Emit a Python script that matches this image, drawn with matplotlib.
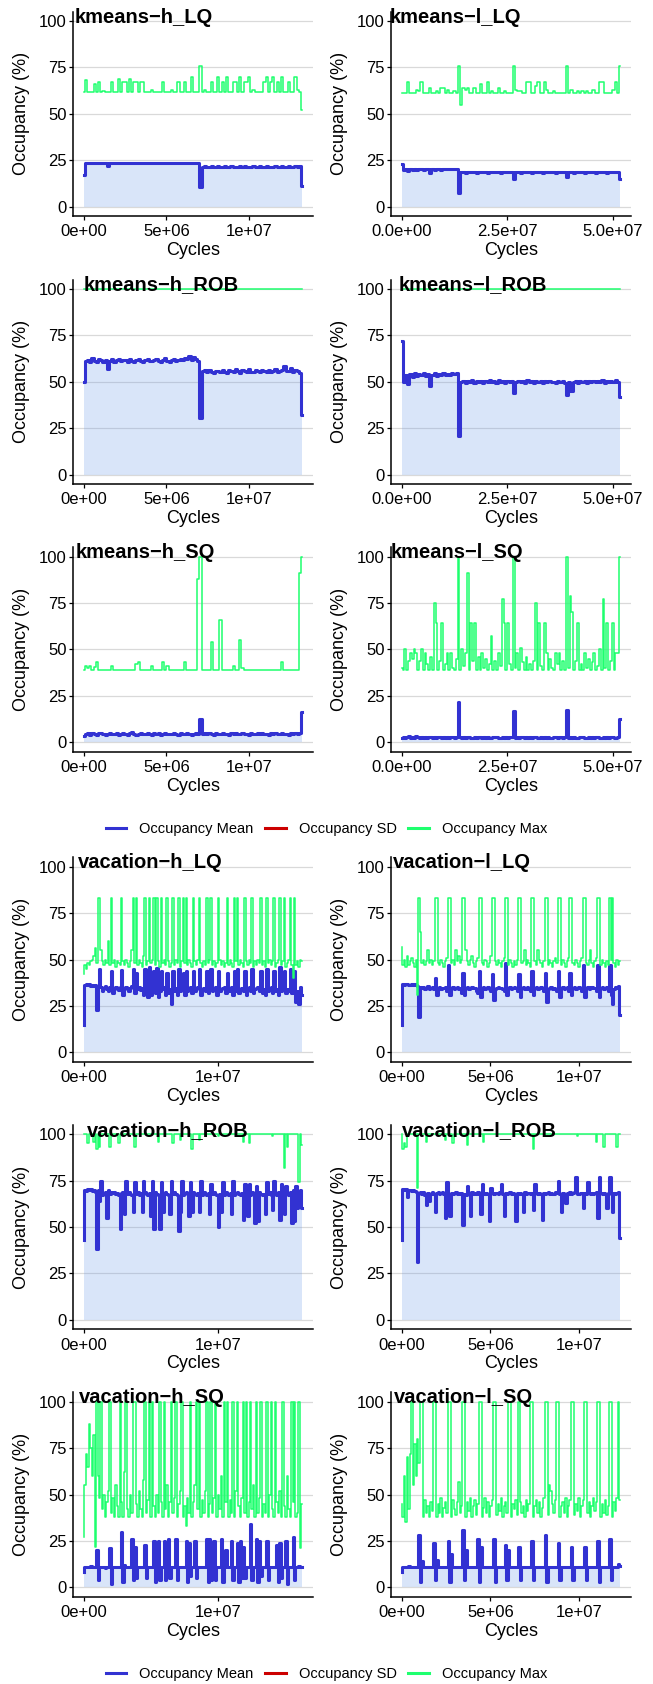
import numpy as np
import matplotlib
matplotlib.use('Agg')
import matplotlib.pyplot as plt
from matplotlib.lines import Line2D

plt.rcParams['font.family'] = ['Liberation Sans', 'DejaVu Sans']

# ---- values ----------------------------------------------------------------
panel_titles = ['kmeans−h_LQ', 'kmeans−l_LQ', 'kmeans−h_ROB', 'kmeans−l_ROB',
                'kmeans−h_SQ', 'kmeans−l_SQ', 'vacation−h_LQ', 'vacation−l_LQ',
                'vacation−h_ROB', 'vacation−l_ROB', 'vacation−h_SQ', 'vacation−l_SQ']
last_cycle = [13.2e6, 51.7e6, 13.2e6, 51.7e6, 13.2e6, 51.7e6,
              16.3e6, 12.3e6, 16.3e6, 12.3e6, 16.3e6, 12.3e6]

ticks_kmeans_h = [0, 5e6, 1e7]
labels_kmeans_h = ['0e+00', '5e+06', '1e+07']
ticks_kmeans_l = [0, 2.5e7, 5e7]
labels_kmeans_l = ['0.0e+00', '2.5e+07', '5.0e+07']
ticks_vacation_h = [0, 1e7]
labels_vacation_h = ['0e+00', '1e+07']
ticks_vacation_l = [0, 5e6, 1e7]
labels_vacation_l = ['0e+00', '5e+06', '1e+07']
y_ticks = [0, 25, 50, 75, 100]
legend_labels = ['Occupancy Mean', 'Occupancy SD', 'Occupancy Max']

kmeans_h_lq_mean = [
    17, 23.6, 23.4, 23.8, 23.5, 23.3, 23.7, 23.6, 23.4, 23.8,
    23.5, 22, 23.6, 23.4, 23.7, 23.5, 23.3, 23.8, 23.6, 23.4,
    23.5, 23.7, 23.3, 23.6, 23.8, 23.4, 23.5, 23.6, 23.3, 23.7,
    23.5, 23.4, 23.8, 23.6, 23.5, 23.3, 23.7, 23.4, 23.6, 23.5,
    23.8, 23.4, 23.6, 23.5, 23.3, 23.7, 23.6, 23.4, 23.5, 23.8,
    23.6, 23.5, 23.7, 10.5, 21.5, 21.8, 21.4, 21.6, 21.7, 21.3,
    21.6, 21.8, 21.5, 21.4, 21.7, 21.6, 21.3, 21.8, 21.5, 21.6,
    21.4, 21.7, 21.5, 21.8, 21.6, 21.3, 21.5, 21.7, 21.4, 21.6,
    21.8, 21.5, 21.4, 21.7, 21.6, 21.3, 21.5, 21.8, 21.6, 21.4,
    21.7, 21.5, 21.6, 21.8, 21.4, 21.5, 21.7, 21.6, 21.9, 11]
kmeans_h_lq_max = [
    61.5, 68, 61.5, 61.5, 61.5, 66, 61.5, 67, 61.5, 62.5,
    61.5, 61.5, 61.5, 67, 61.5, 61.5, 69, 61.5, 67, 67,
    61.5, 69, 61.5, 67, 67, 61.5, 67, 67, 61.5, 61.5,
    61.5, 63, 61.5, 61.5, 61.5, 61.5, 67, 61.5, 61.5, 61.5,
    63, 61.5, 61.5, 67, 61.5, 61.5, 67, 61.5, 61.5, 70,
    61.5, 61.5, 61.5, 76, 61.5, 63, 61.5, 61.5, 67, 61.5,
    61.5, 70, 61.5, 67, 61.5, 70, 61.5, 61.5, 67, 67,
    61.5, 70, 61.5, 67, 67, 70, 61.5, 63, 61.5, 61.5,
    61.5, 61.5, 67, 70, 61.5, 67, 70, 61.5, 67, 61.5,
    70, 61.5, 61.5, 67, 61.5, 61.5, 70, 63, 62, 52]

kmeans_l_lq_mean = [
    23, 19.5, 20.5, 19, 20.3, 20, 20.4, 19.8, 20.2, 20.5,
    19.9, 20.3, 20.1, 18, 20.4, 20, 20.3, 20.5, 19.9, 20.2,
    20.4, 20.1, 20.3, 20.5, 20.2, 20.4, 7.5, 18.5, 18.7, 18.4,
    18.8, 18.5, 18.6, 18.9, 18.4, 18.7, 18.5, 18.8, 18.6, 18.4,
    18.7, 18.9, 18.5, 18.6, 18.8, 18.4, 18.7, 18.5, 18.6, 18.8,
    18.5, 15, 18.6, 18.8, 18.4, 18.7, 18.5, 18.9, 18.6, 18.4,
    18.7, 18.5, 18.8, 18.6, 18.4, 18.7, 18.9, 18.5, 18.6, 18.8,
    18.4, 18.7, 18.5, 18.6, 18.8, 16, 18.5, 18.7, 18.4, 18.8,
    18.6, 18.5, 18.9, 18.4, 18.7, 18.6, 18.5, 18.8, 18.4, 18.7,
    18.6, 18.9, 18.5, 18.4, 18.7, 18.6, 18.8, 18.5, 18.9, 15]
kmeans_l_lq_max = [
    61, 61, 61, 67, 61, 61, 61, 63, 62.5, 67,
    61, 61, 61, 64, 61, 61, 62.5, 61, 64, 64,
    61, 63, 61, 61, 62.5, 61, 76, 55, 64, 63,
    64, 61, 61, 64, 61, 61, 66, 61, 61, 67,
    61, 62.5, 61, 61, 64, 61, 61, 62.5, 61, 61,
    61, 76, 63, 62.5, 62.5, 61, 61, 67, 67, 61,
    61, 65, 67, 61, 61, 67, 63, 61, 61, 62.5,
    61, 61, 61, 61, 61, 76, 61, 63, 61, 61,
    62.5, 61, 62.5, 61, 62.5, 61, 61, 63, 61, 61,
    67, 67, 61, 61, 61, 61, 63, 67, 61, 76]

kmeans_h_rob_mean = [
    50, 61, 61.8, 60.5, 62.5, 61.2, 60.8, 62, 61.5, 60.6,
    61.9, 57, 61.2, 62, 60.7, 61.5, 62.3, 60.9, 61.4, 61.8,
    60.6, 62.1, 61.3, 60.8, 61.9, 62.4, 61, 60.7, 61.6, 62.2,
    61.1, 60.9, 61.7, 62, 61.3, 60.6, 61.8, 62.5, 61.2, 60.8,
    61.5, 62.1, 61, 61.7, 62.3, 61.8, 63, 62, 64, 61.5,
    63.5, 62, 61, 30.5, 55.8, 56.5, 55, 56.2, 55.4, 54.8,
    56, 55.6, 55.1, 56.4, 55.3, 54.9, 56.1, 55.7, 55.2, 56.6,
    55.5, 54.8, 56.3, 55.9, 55.1, 56.7, 55.4, 55, 56.2, 55.8,
    55.3, 56.5, 55.6, 55, 56.1, 55.4, 55.9, 56.8, 55.2, 55.7,
    56.3, 58.5, 55.6, 56, 57.5, 55.4, 56.2, 55.8, 54.5, 32]
kmeans_h_rob_max = [100, 100]

kmeans_l_rob_mean = [
    72, 50, 53.5, 49, 54, 52.5, 54.5, 53, 54, 53.5,
    54.8, 53.2, 54, 47.5, 53.8, 54.5, 53.3, 54.2, 53.6, 54.8,
    53.4, 54.3, 53.7, 54.6, 54.1, 54.9, 21, 49.8, 50.5, 49.3,
    50.2, 49.7, 50.8, 49.5, 50.1, 49.9, 50.6, 49.4, 50.3, 49.8,
    50.7, 49.6, 50.2, 49.5, 50.9, 49.7, 50.4, 49.3, 50.1, 49.8,
    50.5, 44, 49.9, 50.4, 49.6, 50.2, 49.4, 50.7, 49.8, 50.1,
    49.5, 50.3, 49.7, 50.6, 49.4, 50.2, 49.9, 50.5, 49.6, 50,
    49.3, 50.4, 49.8, 50.6, 49.5, 43, 50, 45, 49.8, 50.4,
    49.5, 50.2, 49.7, 50.6, 49.4, 50.1, 49.9, 50.5, 49.6, 50.3,
    49.8, 50.7, 49.5, 50.2, 49.7, 50.4, 49.6, 50.8, 49.9, 42]
kmeans_l_rob_max = [100, 100]

kmeans_h_sq_mean = [
    3.5, 4.3, 4.9, 4.1, 5.0, 4.5, 4.2, 4.8, 5.2, 4.4,
    4.0, 4.7, 5.1, 4.3, 4.6, 4.9, 4.2, 4.5, 5.0, 4.4,
    4.1, 4.8, 5.3, 4.5, 4.2, 4.7, 4.9, 4.3, 4.6, 5.1,
    4.4, 4.0, 4.8, 4.5, 4.9, 4.2, 4.6, 5.0, 4.3, 4.7,
    4.4, 5.2, 4.5, 4.1, 4.8, 4.6, 4.3, 4.9, 4.5, 4.2,
    4.7, 5.0, 4.4, 12.5, 4.6, 5.0, 4.3, 4.8, 4.5, 4.1,
    4.9, 4.6, 4.3, 5.1, 4.4, 4.7, 4.2, 4.9, 4.5, 4.8,
    4.3, 4.6, 5.0, 4.4, 4.7, 4.1, 4.9, 4.5, 4.3, 4.8,
    4.6, 5.1, 4.4, 4.7, 4.2, 4.9, 4.5, 4.8, 4.3, 4.6,
    5.0, 4.4, 4.7, 4.2, 4.9, 4.5, 4.8, 4.6, 5.2, 16.5]
kmeans_h_sq_max = [
    39, 41, 40, 41, 39, 40.5, 43, 39, 39, 39,
    39, 39, 39, 41, 39, 39, 39, 39, 39, 39,
    39, 39, 39, 39, 42, 43, 39, 39, 39, 39,
    39, 41, 39, 39, 39, 39, 43, 39, 41, 39,
    39, 39, 39, 39, 39, 39, 43, 39, 39, 39,
    39, 39, 88, 100, 39, 39, 39, 39, 54, 39,
    39, 39, 66, 39, 39, 39, 39, 39, 41, 39,
    39, 55, 40, 39, 39, 39, 39, 39, 39, 39,
    39, 39, 39, 39, 39, 39, 39, 39, 39, 39,
    43, 39, 39, 39, 39, 39, 39, 39, 91, 100]

kmeans_l_sq_mean = [
    2.5, 3.0, 2.2, 2.8, 3.2, 2.4, 2.9, 2.1, 3.3, 2.6,
    2.3, 2.9, 2.5, 3.1, 2.2, 2.7, 3.0, 2.4, 2.8, 2.1,
    2.6, 3.0, 2.3, 2.7, 2.5, 2.9, 2.2, 2.6, 3.1, 2.4,
    2.8, 21.5, 2.6, 2.3, 2.9, 2.1, 2.7, 3.0, 2.4, 2.5,
    2.8, 2.2, 2.6, 3.1, 2.4, 2.7, 2.3, 2.9, 2.5, 2.1,
    2.8, 2.6, 3.0, 2.3, 2.5, 2.7, 2.2, 2.9, 2.4, 2.6,
    2.8, 17, 2.5, 2.8, 2.2, 2.6, 3.0, 2.3, 2.7, 2.4,
    2.9, 2.1, 2.6, 2.8, 2.3, 2.5, 3.0, 2.2, 2.7, 2.4,
    2.9, 2.5, 2.3, 2.8, 2.6, 2.1, 2.7, 2.9, 2.4, 2.6,
    17.5, 2.4, 2.7, 2.2, 2.9, 2.5, 2.3, 2.8, 2.6, 3.0,
    2.2, 2.5, 2.7, 2.4, 2.9, 2.1, 2.6, 2.8, 2.3, 2.5,
    3.0, 2.4, 2.7, 2.2, 2.6, 2.9, 2.5, 2.3, 2.8, 12.5]
kmeans_l_sq_max = [
    40, 39, 50, 39, 44, 48, 45, 50, 48, 39,
    44, 50, 39, 48, 42, 39, 46, 39, 75, 64,
    39, 44, 64, 39, 42, 48, 39, 48, 40, 39,
    45, 100, 39, 50, 41, 48, 91, 39, 64, 44,
    64, 39, 46, 39, 48, 40, 45, 39, 42, 57,
    39, 44, 39, 48, 41, 77, 64, 39, 64, 42,
    39, 100, 40, 48, 39, 51, 43, 39, 46, 39,
    42, 39, 44, 75, 39, 64, 41, 39, 64, 48,
    39, 45, 40, 39, 48, 42, 48, 39, 44, 39,
    100, 40, 79, 70, 39, 44, 64, 39, 42, 39,
    48, 40, 45, 39, 43, 48, 39, 41, 50, 39,
    77, 40, 64, 39, 44, 64, 39, 48, 48, 100]

vacation_h_lq_mean = [
    15, 36.5, 37, 36.3, 36.8, 36, 36.5, 35.8, 36.2, 23,
    36, 45, 35, 33, 34.5, 35.5, 34, 33, 35, 44,
    32, 34.5, 35, 34, 33.5, 35, 44.5, 31, 34, 35,
    34.5, 33, 34.8, 35.5, 45, 32, 43, 34, 35, 33.5,
    34.5, 31, 45, 33, 30, 46, 31, 34, 44, 32,
    45.5, 30, 33, 44, 34, 35, 31, 43, 32, 34,
    26, 44, 33, 34.5, 31, 45, 33, 34, 43, 31,
    44, 33, 34.5, 35, 32, 44, 33, 34, 35, 45,
    31, 34, 34.5, 33, 44, 32, 34, 45, 33, 34.5,
    35, 31, 44, 33, 34, 34.5, 35, 32, 43, 33,
    34, 35, 31, 44, 33, 45, 32, 34, 34.5, 33,
    44, 31, 34, 35, 33, 45, 32, 34, 34.5, 35,
    33, 44, 32, 34, 31, 45, 33, 34, 35, 32,
    44, 33, 34, 31, 46, 33, 34, 44, 32, 34,
    33, 45, 32, 34, 44, 27, 33, 26, 35, 31]
vacation_h_lq_max = [
    42, 47, 45, 48, 47, 49, 50, 52, 56, 48,
    83, 83, 55, 49, 47, 50, 48, 60, 47, 83,
    48, 50, 46, 49, 48, 47, 83, 49, 47, 50,
    48, 46, 49, 55, 83, 48, 83, 47, 50, 48,
    46, 52, 83, 47, 49, 83, 48, 50, 83, 47,
    83, 49, 46, 83, 48, 50, 47, 83, 49, 46,
    48, 83, 47, 50, 48, 83, 46, 49, 83, 48,
    83, 47, 50, 48, 46, 83, 49, 47, 50, 83,
    48, 46, 49, 47, 83, 48, 50, 83, 47, 49,
    46, 48, 83, 50, 47, 49, 46, 48, 83, 47,
    50, 48, 46, 83, 49, 83, 47, 50, 48, 46,
    83, 49, 47, 50, 48, 83, 46, 49, 47, 50,
    48, 83, 47, 49, 46, 83, 48, 50, 47, 49,
    83, 46, 48, 50, 83, 47, 49, 83, 46, 48,
    50, 83, 47, 40, 83, 47, 49, 46, 50, 49]

vacation_l_lq_mean = [
    15, 36.8, 36.3, 36.6, 36.9, 36.2, 36.5, 36.7, 36.4, 36.6,
    36.3, 35.5, 19, 35, 34.5, 35, 34.2, 34.8, 35.5, 34.3,
    34.7, 35, 34.4, 40, 31, 34.5, 35, 34.3, 34.8, 34.5,
    35.2, 33, 47, 31, 34.5, 35, 34.2, 34.8, 35.3, 34.4,
    34.7, 32, 43, 31, 34.5, 35, 34.3, 34.8, 35.2, 34.5,
    34.9, 33, 32, 44, 30, 34.5, 35, 34.3, 34.7, 35.1,
    34.4, 33, 42, 28, 34, 34.8, 35.2, 34.5, 34.9, 34.3,
    33, 48, 31, 34.5, 35, 34.3, 34.8, 35.2, 34.5, 33,
    42, 30, 34.5, 35, 34.3, 34.8, 35.1, 34.4, 33, 44,
    31, 34.5, 35, 34.3, 34.8, 35.2, 34.5, 33, 43, 27,
    34, 34.8, 35.2, 34.4, 34.9, 34.3, 33, 44, 30, 34.5,
    35, 34.3, 34.8, 35.1, 33, 43, 31, 34.5, 35, 34.3,
    34.8, 35.2, 34.5, 33, 47, 30, 34.5, 35, 34.3, 34.8,
    35.2, 34.5, 34.9, 33, 47, 30, 34.5, 35, 34.3, 34.8,
    35.2, 33, 47, 31, 26, 34, 35, 34.5, 35.5, 20]
vacation_l_lq_max = [
    57, 47, 50, 46, 52, 47, 49, 51, 48, 46,
    50, 31, 83, 65, 48, 50, 47, 49, 55, 48,
    50, 47, 49, 83, 83, 48, 47, 50, 48, 46,
    49, 51, 83, 83, 48, 50, 47, 55, 49, 52,
    48, 50, 83, 83, 55, 49, 47, 50, 52, 48,
    46, 49, 51, 83, 83, 48, 47, 50, 49, 46,
    48, 52, 83, 83, 49, 47, 50, 48, 46, 49,
    51, 83, 83, 47, 50, 48, 46, 49, 47, 50,
    83, 83, 48, 49, 55, 47, 50, 48, 46, 83,
    83, 49, 47, 55, 50, 48, 46, 49, 83, 83,
    47, 50, 48, 46, 49, 51, 48, 83, 83, 47,
    50, 48, 46, 49, 51, 83, 83, 48, 47, 50,
    48, 46, 49, 51, 83, 83, 48, 47, 50, 55,
    48, 46, 49, 51, 83, 83, 47, 50, 48, 46,
    49, 47, 83, 50, 83, 48, 46, 50, 47, 49]

vacation_h_rob_mean = [
    43, 70, 69.5, 70.3, 69.8, 70.5, 69.6, 70.2, 69, 38,
    70, 64, 75, 67, 68.5, 69, 55, 70, 68, 69,
    68.5, 69, 68, 68.5, 67, 49, 68.5, 69, 57, 75,
    68, 69, 68, 67, 58, 74, 68, 69, 67, 68.5,
    58, 75, 69, 68, 67, 68.5, 56, 75, 49, 69,
    68, 67.5, 49, 74, 58, 68, 69, 68, 67, 57,
    75, 68, 69, 68, 67, 48, 58, 75, 67, 68.5,
    69, 68, 56, 74, 58, 69, 68, 67.5, 68.5, 58,
    75, 67, 69, 68, 67.5, 68.5, 57, 73, 68, 69,
    68, 67.5, 50, 68, 58, 74, 67, 69, 68, 67.5,
    68.5, 57, 75, 67, 68.5, 69, 68, 67.5, 68.5, 54,
    73, 68, 56, 73, 67, 69, 68, 52, 72, 53,
    69, 68, 67.5, 68, 57, 74, 68, 69, 67, 59,
    75, 68, 67, 69, 54, 73, 68, 57, 72, 68,
    67, 69, 52, 70, 53, 72, 60, 68, 70, 60]
vacation_h_rob_max = [
    100, 100, 100, 95, 100, 100, 100, 96, 100, 92,
    100, 93, 100, 100, 100, 100, 100, 100, 93, 100,
    100, 100, 100, 100, 95, 100, 100, 100, 100, 100,
    100, 100, 100, 100, 100, 93, 100, 100, 100, 100,
    100, 100, 100, 100, 100, 100, 100, 100, 100, 100,
    100, 96, 100, 100, 100, 100, 100, 100, 100, 100,
    100, 95, 100, 100, 100, 100, 97, 100, 100, 100,
    100, 100, 100, 100, 92, 100, 100, 100, 100, 97,
    100, 100, 100, 100, 100, 100, 100, 100, 100, 100,
    100, 100, 99, 100, 100, 100, 100, 100, 100, 100,
    100, 100, 100, 100, 100, 100, 100, 100, 100, 96,
    100, 100, 100, 95, 100, 100, 100, 100, 100, 100,
    100, 100, 100, 100, 100, 100, 100, 100, 100, 99,
    100, 100, 100, 100, 100, 100, 100, 82, 100, 93,
    100, 100, 100, 100, 100, 100, 100, 74, 100, 94]

vacation_l_rob_mean = [
    43, 70.5, 70, 70.3, 66, 69.8, 70, 69.5, 69.8, 69.2,
    69, 31, 68.5, 69, 68, 68.7, 67.5, 62, 68.5, 64,
    68, 68.8, 67.6, 58, 68.3, 68.8, 67.7, 68.4, 69, 68,
    55, 74, 68, 56, 68.5, 67.6, 68.2, 69, 67.8, 68.4,
    68, 68.6, 51, 68, 67.5, 72, 68.3, 56, 68.8, 67.7,
    68.4, 68, 69, 67.6, 57, 73, 68.2, 67.8, 68.6, 68,
    53, 71, 68.4, 67.9, 68.6, 68.1, 67.6, 68.8, 73, 68,
    56, 68.5, 67.7, 68.3, 68.9, 67.8, 68.4, 68, 53, 68.6,
    67.9, 68.4, 68, 58, 68.8, 67.7, 68.5, 68.1, 67.6, 68.6,
    59, 73, 68.2, 67.8, 68.6, 68, 54, 68.5, 67.9, 68.3,
    68.8, 67.7, 68.4, 68, 67.6, 68.7, 68.2, 75, 68, 58,
    68.5, 67.8, 63, 68.4, 68, 68.7, 67.6, 68.3, 68.9, 77,
    68, 67.7, 68.5, 68.1, 60, 68.6, 67.9, 74, 68.3, 68,
    68.6, 67.7, 68.2, 68.8, 55, 77, 68.1, 67.6, 68.4, 68,
    60, 68.5, 77, 67.8, 58, 68.3, 67.7, 68.6, 69, 44]
vacation_l_rob_max = [
    100, 92, 95, 93, 100, 100, 100, 100, 100, 100,
    100, 71, 100, 100, 100, 100, 100, 96, 100, 100,
    100, 100, 100, 100, 100, 100, 100, 100, 100, 100,
    97, 100, 100, 100, 100, 95, 100, 100, 100, 100,
    100, 100, 100, 100, 100, 94, 100, 100, 100, 100,
    100, 100, 100, 100, 100, 100, 96, 100, 100, 100,
    100, 100, 100, 100, 100, 100, 100, 100, 100, 100,
    100, 100, 100, 100, 100, 100, 100, 100, 100, 100,
    100, 100, 100, 100, 100, 100, 100, 100, 100, 100,
    92, 100, 100, 100, 100, 100, 100, 100, 100, 100,
    100, 100, 100, 100, 100, 100, 100, 100, 100, 100,
    100, 100, 100, 100, 100, 100, 100, 100, 100, 100,
    99, 100, 100, 100, 100, 100, 100, 100, 100, 100,
    100, 100, 100, 96, 100, 100, 100, 100, 93, 100,
    100, 100, 100, 100, 100, 100, 100, 93, 100, 100]

vacation_h_sq_mean = [
    8.5, 11, 11.2, 10.8, 11, 11.3, 10.9, 11.1, 10.8, 20,
    4, 11, 11.2, 10.9, 11, 10.7, 11.2, 11, 21, 2,
    11, 10.8, 11.2, 11, 10.9, 11.1, 30, 3, 12, 10.8,
    11.2, 10.9, 11, 26, 4, 22, 5, 11, 10.8, 11.2,
    11, 10.9, 23, 5, 11, 11.2, 10.8, 11, 25, 3,
    11, 25, 4, 11, 10.9, 25, 4, 11, 26, 5,
    11, 11.2, 10.8, 26, 4, 11, 11.1, 10.9, 11, 11.2,
    25, 3, 24, 6, 11, 10.8, 25, 5, 11, 11.2,
    10.9, 11, 11.1, 10.8, 26, 3, 26, 4, 11, 25,
    4, 11, 11.2, 10.9, 26, 3, 11, 20, 11, 10.8,
    11.1, 25, 4, 11, 10.9, 24, 3, 25, 5, 22,
    5, 11, 11.1, 10.8, 34, 4, 11, 10.9, 26, 3,
    25, 6, 11, 10.8, 11.2, 25, 4, 11, 10.9, 11,
    11.2, 10.8, 23, 3, 24, 5, 11, 11.1, 25, 2,
    11, 10.9, 11.2, 27, 4, 11, 11, 11.3, 10.8, 11.2]
vacation_h_sq_max = [
    27, 55, 72, 65, 88, 75, 60, 82, 22, 100,
    60, 48, 100, 42, 50, 38, 46, 52, 100, 40,
    48, 38, 55, 44, 38, 100, 46, 38, 62, 100,
    42, 38, 50, 40, 100, 100, 45, 38, 52, 42,
    38, 58, 100, 40, 47, 100, 38, 100, 44, 38,
    50, 40, 100, 46, 38, 100, 42, 55, 38, 46,
    100, 40, 48, 100, 38, 45, 52, 100, 38, 44,
    33, 48, 40, 100, 38, 46, 55, 100, 42, 100,
    38, 47, 40, 52, 100, 38, 45, 100, 40, 48,
    100, 38, 50, 42, 60, 38, 100, 46, 100, 38,
    47, 40, 100, 38, 52, 100, 44, 38, 48, 100,
    40, 100, 38, 46, 100, 42, 55, 38, 100, 40,
    48, 100, 38, 45, 40, 100, 38, 50, 100, 42,
    38, 100, 46, 40, 52, 38, 100, 44, 38, 60,
    42, 38, 100, 46, 100, 38, 40, 100, 21, 45]

vacation_l_sq_mean = [
    8.5, 10.8, 11.2, 11, 10.9, 11.3, 11, 11.2, 10.9, 11.1,
    11, 11.2, 28, 3, 14, 11, 10.8, 11.2, 11, 10.9,
    11.1, 11, 24, 4, 15, 11, 10.8, 11.2, 11, 10.9,
    11.1, 11, 25, 3, 18, 11, 10.9, 11.2, 11, 10.8,
    11.1, 11, 31, 4, 20, 11, 11.2, 10.9, 11, 11.1,
    10.8, 11, 26, 3, 22, 11, 11.2, 10.9, 11, 11.1,
    10.8, 11, 11.2, 26, 3, 11, 11, 10.9, 11.2, 11,
    11.1, 23, 4, 20, 11, 10.8, 11.2, 11, 10.9, 11.1,
    22, 4, 11, 11.2, 10.9, 11, 11.1, 10.8, 11, 25,
    4, 11, 11.2, 10.9, 11, 11.1, 10.8, 11, 28, 3,
    11, 11.2, 10.9, 11, 11.1, 10.8, 11, 24, 4, 11,
    11.2, 10.9, 11, 11.1, 10.8, 11, 22, 4, 11, 11.2,
    10.9, 11, 11.1, 10.8, 11, 22, 4, 11, 11.2, 10.9,
    11, 11.1, 10.8, 11, 25, 3, 11, 11.2, 10.9, 11,
    11.1, 10.8, 26, 4, 11, 11.2, 10.9, 11, 12.5, 11.5]
vacation_l_sq_max = [
    45, 38, 60, 35, 70, 42, 72, 100, 55, 77,
    60, 80, 67, 100, 100, 38, 47, 40, 44, 38,
    46, 41, 100, 100, 38, 45, 40, 48, 38, 43,
    46, 40, 100, 100, 38, 47, 42, 39, 46, 57,
    40, 44, 100, 100, 38, 46, 41, 48, 38, 44,
    47, 39, 45, 100, 100, 38, 43, 48, 40, 46,
    38, 44, 47, 100, 100, 39, 45, 41, 48, 38,
    44, 46, 40, 100, 100, 38, 45, 42, 47, 39,
    100, 46, 40, 44, 38, 47, 41, 45, 100, 100,
    38, 44, 47, 40, 46, 38, 43, 48, 100, 100,
    39, 55, 52, 45, 40, 47, 100, 100, 38, 44,
    46, 40, 48, 38, 44, 47, 100, 100, 39, 45,
    41, 48, 38, 44, 47, 100, 100, 40, 46, 38,
    44, 48, 41, 46, 100, 100, 38, 45, 40, 47,
    39, 44, 100, 100, 38, 46, 41, 48, 100, 47]

# ---- panel table ------------------------------------------------------------
means = [kmeans_h_lq_mean, kmeans_l_lq_mean, kmeans_h_rob_mean, kmeans_l_rob_mean,
         kmeans_h_sq_mean, kmeans_l_sq_mean, vacation_h_lq_mean, vacation_l_lq_mean,
         vacation_h_rob_mean, vacation_l_rob_mean, vacation_h_sq_mean, vacation_l_sq_mean]
maxes = [kmeans_h_lq_max, kmeans_l_lq_max, kmeans_h_rob_max, kmeans_l_rob_max,
         kmeans_h_sq_max, kmeans_l_sq_max, vacation_h_lq_max, vacation_l_lq_max,
         vacation_h_rob_max, vacation_l_rob_max, vacation_h_sq_max, vacation_l_sq_max]
xticks = [ticks_kmeans_h, ticks_kmeans_l] * 3 + [ticks_vacation_h, ticks_vacation_l] * 3
xticklabels = [labels_kmeans_h, labels_kmeans_l] * 3 + [labels_vacation_h, labels_vacation_l] * 3

BLUE = '#3232D2'
RED = '#CC0000'
GREEN = '#1EFF6E'
FILL = '#6496E6'

# layout in pixels (figure is 653 x 1684)
W, H = 653, 1684
col_left = [72.7, 390.7]
ax_w, ax_h = 240.3, 204.3
row_top = [11.7, 279.5, 547.3, 857.4, 1124.9, 1392.4]
title_cell_x = [6, 324]

fig = plt.figure(figsize=(W / 100, H / 100), dpi=100)

title_objs = []
for k in range(12):
    r, c = divmod(k, 2)
    ax = fig.add_axes([col_left[c] / W, 1 - (row_top[r] + ax_h) / H, ax_w / W, ax_h / H])
    end = last_cycle[k]
    xm = np.linspace(0, end, len(means[k]))
    xx = np.linspace(0, end, len(maxes[k]))

    # sampled counters: draw as steps so spikes stay vertical
    ax.fill_between(xm, 0, means[k], step='mid', color=FILL, alpha=0.24, lw=0, zorder=2)
    ax.plot(xm, means[k], color=BLUE, lw=2.2, drawstyle='steps-mid', zorder=3)
    ax.plot(xx, maxes[k], color=GREEN, lw=1.1, drawstyle='steps-mid', zorder=4)

    ax.set_xlim(-0.05 * end, 1.05 * end)
    ax.set_ylim(-5, 105)
    ax.set_yticks(y_ticks)
    ax.set_xticks(xticks[k])
    ax.set_xticklabels(xticklabels[k])
    ax.yaxis.grid(True, color='#d9d9d9', lw=0.9)
    ax.set_axisbelow(True)
    for s in ['top', 'right']:
        ax.spines[s].set_visible(False)
    for s in ['left', 'bottom']:
        ax.spines[s].set_linewidth(1.1)
        ax.spines[s].set_color('black')
    ax.tick_params(axis='both', direction='out', length=3, width=0.9,
                   colors='black', labelsize=12)
    ax.tick_params(axis='y', pad=1.5)
    ax.tick_params(axis='x', pad=3)

    ax.set_ylabel('Occupancy (%)', fontsize=13)
    ax.yaxis.set_label_coords(-43 / ax_w, 0.5)
    ax.set_xlabel('Cycles', fontsize=13)
    ax.xaxis.set_label_coords(0.5, -26 / ax_h)

    t = fig.text(0, 0, panel_titles[k], fontsize=14.5, fontweight='bold',
                 ha='left', va='baseline', zorder=10)
    title_objs.append((t, c, r))

# panel labels sit half their own width to the right of the cell edge
fig.canvas.draw()
renderer = fig.canvas.get_renderer()
for t, c, r in title_objs:
    w = t.get_window_extent(renderer).width
    t.set_position(((title_cell_x[c] + 0.5 * w) / W, 1 - (row_top[r] + 11) / H))

handles = [Line2D([], [], color=BLUE, lw=2.2),
           Line2D([], [], color=RED, lw=2.2),
           Line2D([], [], color=GREEN, lw=2.2)]
for ypix in [829, 1674]:
    fig.legend(handles, legend_labels, loc='center', bbox_to_anchor=(0.5, 1 - ypix / H),
               ncol=3, frameon=False, fontsize=10.5, handlelength=1.4,
               handletextpad=0.9, columnspacing=0.8, borderaxespad=0, borderpad=0)

fig.savefig('out.png', dpi=100)
